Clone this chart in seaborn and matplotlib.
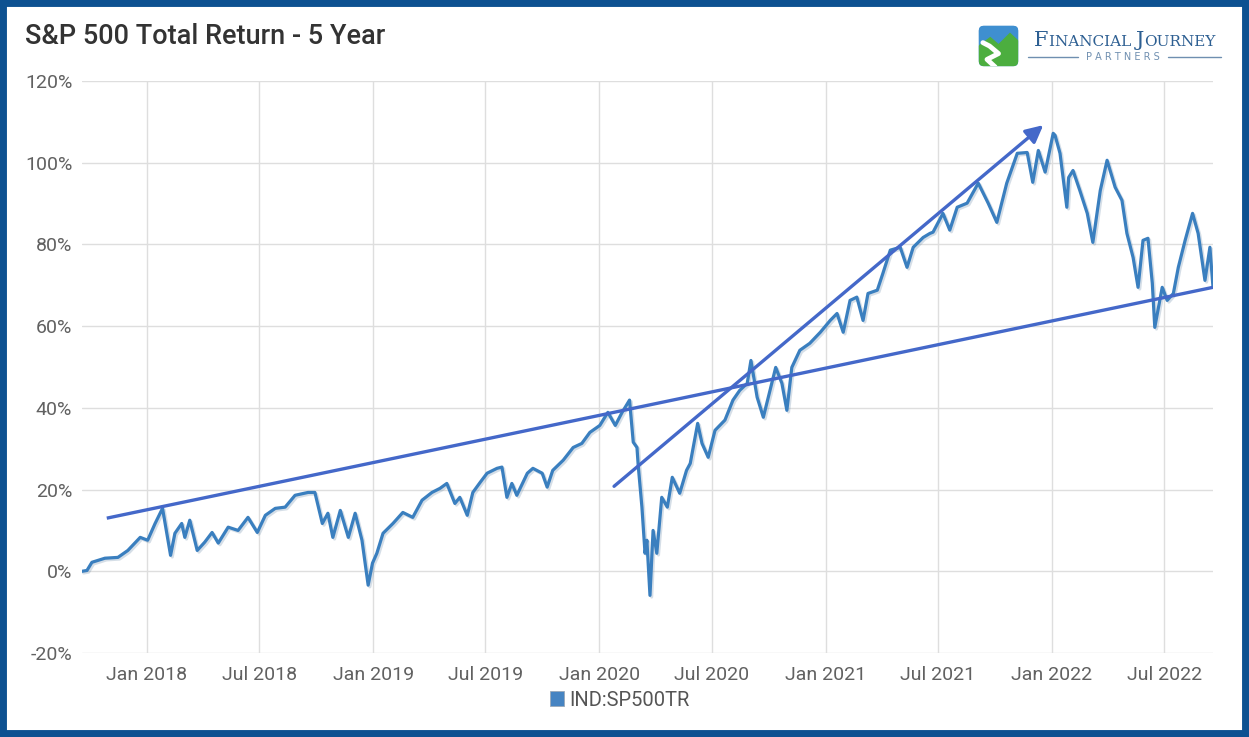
import numpy as np
import pandas as pd
import matplotlib
matplotlib.use("Agg")
import matplotlib.pyplot as plt
import matplotlib.dates as mdates
import matplotlib.patheffects as pe
from matplotlib.patches import Rectangle, FancyBboxPatch, Polygon, Patch
from matplotlib.offsetbox import TextArea, HPacker, AnnotationBbox
import seaborn as sns

# S&P 500 total return (percent since start)
dates = [
    "2017-09-18", "2017-09-26", "2017-10-04", "2017-10-25", "2017-11-15", "2017-12-01",
    "2017-12-21", "2018-01-02", "2018-01-14", "2018-01-26", "2018-02-08", "2018-02-15",
    "2018-02-26", "2018-03-03", "2018-03-11", "2018-03-23", "2018-04-04", "2018-04-16",
    "2018-04-26", "2018-05-12", "2018-05-28", "2018-06-13", "2018-06-28", "2018-07-11",
    "2018-07-27", "2018-08-12", "2018-08-28", "2018-09-18", "2018-09-29", "2018-10-11",
    "2018-10-20", "2018-10-28", "2018-11-09", "2018-11-22", "2018-12-03", "2018-12-14",
    "2018-12-24", "2018-12-31", "2019-01-07", "2019-01-17", "2019-02-02", "2019-02-18",
    "2019-03-06", "2019-03-21", "2019-04-06", "2019-04-19", "2019-04-30", "2019-05-13",
    "2019-05-21", "2019-06-02", "2019-06-11", "2019-06-23", "2019-07-04", "2019-07-20",
    "2019-07-28", "2019-08-05", "2019-08-13", "2019-08-21", "2019-09-07", "2019-09-16",
    "2019-10-01", "2019-10-09", "2019-10-18", "2019-11-04", "2019-11-20", "2019-12-04",
    "2019-12-17", "2020-01-02", "2020-01-15", "2020-01-27", "2020-02-07", "2020-02-19",
    "2020-02-25", "2020-03-02", "2020-03-04", "2020-03-10", "2020-03-15", "2020-03-18",
    "2020-03-23", "2020-03-28", "2020-04-03", "2020-04-11", "2020-04-20", "2020-04-28",
    "2020-05-10", "2020-05-21", "2020-05-27", "2020-06-08", "2020-06-15", "2020-06-25",
    "2020-07-06", "2020-07-22", "2020-08-04", "2020-08-15", "2020-08-27", "2020-09-02",
    "2020-09-12", "2020-09-22", "2020-09-30", "2020-10-12", "2020-10-22", "2020-10-30",
    "2020-11-07", "2020-11-20", "2020-12-06", "2020-12-23", "2021-01-08", "2021-01-19",
    "2021-01-29", "2021-02-09", "2021-02-20", "2021-03-02", "2021-03-10", "2021-03-25",
    "2021-04-03", "2021-04-15", "2021-05-01", "2021-05-12", "2021-05-22", "2021-06-07",
    "2021-06-18", "2021-06-23", "2021-07-09", "2021-07-20", "2021-08-01", "2021-08-17",
    "2021-09-04", "2021-09-20", "2021-10-04", "2021-10-20", "2021-11-06", "2021-11-22",
    "2021-12-01", "2021-12-10", "2021-12-21", "2022-01-03", "2022-01-06", "2022-01-14",
    "2022-01-25", "2022-01-28", "2022-02-04", "2022-02-15", "2022-02-27", "2022-03-08",
    "2022-03-20", "2022-03-31", "2022-04-13", "2022-04-24", "2022-05-02", "2022-05-12",
    "2022-05-20", "2022-05-28", "2022-06-05", "2022-06-12", "2022-06-16", "2022-06-28",
    "2022-07-06", "2022-07-16", "2022-07-24", "2022-08-04", "2022-08-16", "2022-08-25",
    "2022-09-05", "2022-09-13", "2022-09-18",
]
total_return = [
    0.0, 0.2, 2.2, 3.2, 3.4, 5.1,
    8.3, 7.6, 11.7, 15.4, 3.9, 9.3,
    11.7, 8.3, 12.5, 5.1, 7.1, 9.5,
    6.9, 10.8, 10.0, 13.2, 9.5, 13.7,
    15.4, 15.7, 18.6, 19.3, 19.3, 11.7,
    14.2, 8.3, 14.9, 8.3, 14.2, 7.6,
    -3.4, 2.0, 4.4, 9.3, 11.7, 14.4,
    13.2, 17.4, 19.3, 20.3, 21.5, 16.6,
    18.1, 13.7, 19.3, 21.8, 24.0, 25.2,
    25.5, 18.1, 21.5, 18.6, 24.0, 25.2,
    24.0, 20.6, 24.7, 27.2, 30.3, 31.3,
    34.0, 35.7, 38.9, 35.7, 38.9, 41.9,
    31.6, 30.3, 25.9, 15.7, 4.4, 7.6,
    -5.9, 10.0, 4.4, 18.1, 15.7, 23.0,
    19.1, 24.7, 26.4, 36.2, 31.3, 27.9,
    34.5, 37.0, 41.9, 44.3, 46.0, 51.6,
    42.6, 37.7, 42.6, 49.9, 46.0, 39.4,
    49.9, 54.1, 55.8, 58.5, 61.4, 63.1,
    58.5, 66.3, 67.1, 61.4, 68.0, 68.8,
    72.9, 78.6, 79.3, 74.4, 79.3, 81.7,
    82.7, 83.0, 87.6, 83.5, 89.1, 90.1,
    95.0, 90.1, 85.4, 95.0, 102.3, 102.5,
    95.2, 103.0, 97.7, 107.2, 106.7, 102.3,
    89.1, 96.4, 98.1, 93.2, 87.6, 80.5,
    93.2, 100.6, 94.0, 90.8, 82.7, 76.8,
    69.5, 81.0, 81.5, 70.5, 59.7, 69.5,
    66.3, 68.0, 74.4, 81.0, 87.6, 82.7,
    71.2, 79.3, 69.5,
]

# hand-drawn trend lines (start / end)
support_dates = ["2017-10-28", "2022-09-18"]
support_vals = [13.0, 69.5]
arrow_dates = ["2020-01-25", "2021-12-18"]
arrow_vals = [20.8, 109.2]

y_ticks = [-20, 0, 20, 40, 60, 80, 100, 120]

df = pd.DataFrame({"date": pd.to_datetime(dates), "ret": total_return})

LINE = "#3a7fbf"
TREND = "#4468c9"

sns.set_theme(style="white")
plt.rcParams["font.family"] = ["Roboto", "DejaVu Sans"]

fig = plt.figure(figsize=(12.49, 7.37), dpi=100)
ax = fig.add_axes([82 / 1249, 1 - 653 / 737, (1213 - 82) / 1249, (653 - 81) / 737])

sns.lineplot(data=df, x="date", y="ret", ax=ax, color=LINE, lw=2.3,
             path_effects=[pe.SimpleLineShadow(offset=(1.2, -1.2), alpha=0.25, shadow_color="#5a7fa0"),
                           pe.Normal()])

ax.plot(pd.to_datetime(support_dates), support_vals, color=TREND, lw=2.4, solid_capstyle="butt")
ax.annotate("", xy=(pd.Timestamp(arrow_dates[1]), arrow_vals[1]),
            xytext=(pd.Timestamp(arrow_dates[0]), arrow_vals[0]),
            arrowprops=dict(arrowstyle="-|>", color=TREND, lw=2.4, mutation_scale=26,
                            shrinkA=0, shrinkB=0))

ax.set_xlim(pd.Timestamp("2017-09-18"), pd.Timestamp("2022-09-18"))
ax.set_ylim(-20, 120)
ax.set_yticks(y_ticks)
ax.set_yticklabels([f"{v}%" for v in y_ticks])
ax.xaxis.set_major_locator(mdates.MonthLocator(bymonth=[1, 7]))
ax.xaxis.set_major_formatter(mdates.DateFormatter("%b %Y"))
ax.grid(True, color="#dedede", lw=1.0)
for s in ax.spines.values():
    s.set_visible(False)
ax.tick_params(axis="both", length=0, labelsize=14, colors="#616161")
ax.tick_params(axis="y", pad=7)
ax.tick_params(axis="x", pad=9)
ax.set_xlabel("")
ax.set_ylabel("")

# legend below the axis
ax.legend(handles=[Patch(facecolor="#4684c2", edgecolor="#9aa9b8", lw=0.6, label="IND:SP500TR")],
          loc="center", bbox_to_anchor=(620 / 1249, 1 - 700 / 737), bbox_transform=fig.transFigure,
          frameon=False, fontsize=14.5, handlelength=0.7, handleheight=0.7, handletextpad=0.25,
          labelcolor="#555555")

fig.text(25 / 1249, 1 - 37 / 737, "S&P 500 Total Return - 5 Year", fontsize=19.5,
         color="#333333", fontweight="medium", va="center", ha="left")

# logo icon
lax = fig.add_axes([978 / 1249, 1 - 67 / 737, 41 / 1249, 42 / 737])
lax.set_xlim(0, 1)
lax.set_ylim(0, 1)
lax.axis("off")
box = FancyBboxPatch((0.02, 0.02), 0.96, 0.96, boxstyle="round,pad=0,rounding_size=0.12",
                     facecolor="#3f8fd0", edgecolor="none")
lax.add_patch(box)
grad = np.linspace(0, 1, 64).reshape(-1, 1)
img = lax.imshow(grad, extent=(0, 1, 0, 1), origin="lower", aspect="auto",
                 cmap=matplotlib.colors.LinearSegmentedColormap.from_list("sky", ["#e8f6fb", "#2f7fc4"]))
img.set_clip_path(box)
mountain = Polygon([(0, 0), (0, 0.5), (0.3, 0.72), (0.5, 0.55), (0.78, 0.82), (1, 0.62), (1, 0)],
                   facecolor="#4cae3f", edgecolor="none")
lax.add_patch(mountain)
mountain.set_clip_path(box)
road, = lax.plot([0.42, 0.22, 0.5, 0.28, 0.12], [0.0, 0.18, 0.32, 0.5, 0.58], color="white",
                 lw=3.5, solid_capstyle="round")
road.set_clip_path(box)

# logo text in small caps
big, small = 15, 11
name_col = "#2d5f92"
parts = [("F", big), ("INANCIAL ", small), ("J", big), ("OURNEY", small)]
areas = [TextArea(t, textprops=dict(fontsize=s, color=name_col, family="DejaVu Serif")) for t, s in parts]
pack = HPacker(children=areas, align="baseline", pad=0, sep=0)
fig.add_artist(AnnotationBbox(pack, (1125 / 1249, 1 - 40 / 737), xycoords="figure fraction",
                              frameon=False, box_alignment=(0.5, 0.5)))
fig.text(1123 / 1249, 1 - 57 / 737, "P A R T N E R S", fontsize=7, color="#6f8fb0",
         ha="center", va="center", family="DejaVu Sans")
fig.add_artist(plt.Line2D([1028 / 1249, 1078 / 1249], [1 - 57 / 737] * 2, color="#6f8fb0", lw=1))
fig.add_artist(plt.Line2D([1168 / 1249, 1221 / 1249], [1 - 57 / 737] * 2, color="#6f8fb0", lw=1))

# blue frame
fig.add_artist(Rectangle((0, 0), 1, 1, transform=fig.transFigure, fill=False,
                         edgecolor="#0d5191", lw=10))

fig.savefig("out.png", dpi=100)
